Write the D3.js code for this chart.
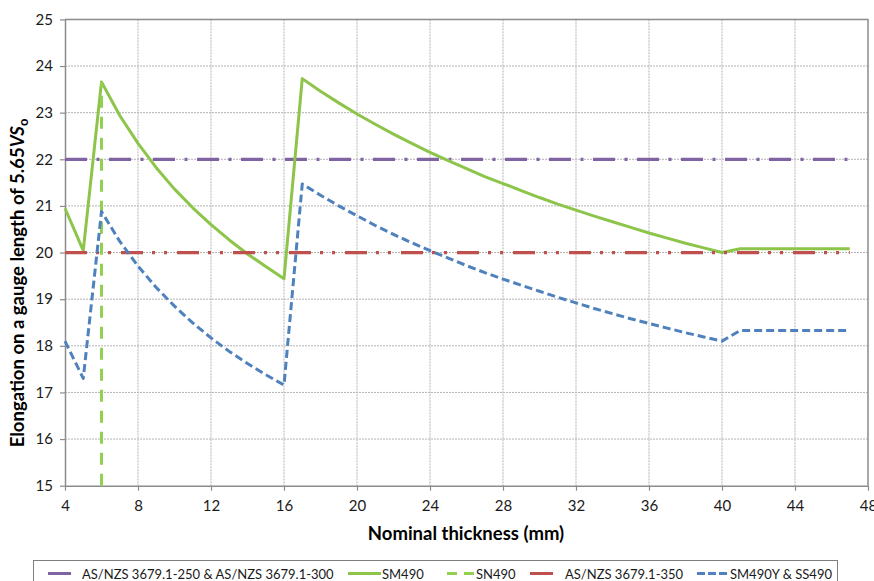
<!DOCTYPE html>
<html>
<head>
<meta charset="utf-8">
<script src="https://cdn.jsdelivr.net/npm/d3@7"></script>
<style>
  body { margin: 0; background: #fff; }
  svg { display: block; font-family: Lato, "Open Sans", sans-serif; }
</style>
</head>
<body>
<svg id="chart"></svg>
<script>
// data
const thickness = [4, 5, 6, 7, 8, 9, 10, 11, 12, 13, 14, 15, 16, 17, 18, 19, 20, 21, 22, 23, 24, 25,
    26, 27, 28, 29, 30, 31, 32, 33, 34, 35, 36, 37, 38, 39, 40, 41, 42, 43, 44, 45, 46, 47];

const sm490 = [20.95, 20.04,
    23.66, 22.94, 22.34, 21.82, 21.36, 20.96, 20.60, 20.27, 19.97, 19.70, 19.44,
    23.73, 23.46, 23.21, 22.97, 22.75, 22.54, 22.34, 22.15, 21.97, 21.80, 21.63, 21.48,
    21.33, 21.18, 21.04, 20.91, 20.78, 20.66, 20.54, 20.42, 20.31, 20.20, 20.10, 20.00,
    20.08, 20.08, 20.08, 20.08, 20.08, 20.08, 20.08];

const sm490y = [18.10, 17.30,
    20.88, 20.24, 19.71, 19.25, 18.85, 18.49, 18.17, 17.88, 17.62, 17.38, 17.16,
    21.47, 21.23, 21.00, 20.79, 20.58, 20.39, 20.21, 20.04, 19.88, 19.72, 19.57, 19.43,
    19.30, 19.17, 19.04, 18.92, 18.80, 18.69, 18.58, 18.48, 18.38, 18.28, 18.19, 18.10,
    18.33, 18.33, 18.33, 18.33, 18.33, 18.33, 18.33];

const as250Ends = [4, 47];
const as250 = [22, 22];
const as350Ends = [4, 47];
const as350 = [20, 20];
const sn490X = [6, 6];
const sn490 = [15, 23.66];

const xTicks = [4, 8, 12, 16, 20, 24, 28, 32, 36, 40, 44, 48];
const yTicks = [15, 16, 17, 18, 19, 20, 21, 22, 23, 24, 25];

// series (draw order = legend order)
const series = [
    { name: "AS/NZS 3679.1-250 & AS/NZS 3679.1-300", xs: as250Ends, ys: as250, color: "#8064A2", width: 3.2, dash: "22,9.5,3,9.5", legendW: 23, legendDash: null },
    { name: "SM490", xs: thickness, ys: sm490, color: "#8DC44A", width: 3, dash: null, legendW: 33, legendDash: null },
    { name: "SN490", xs: sn490X, ys: sn490, color: "#92D050", width: 3, dash: "12,9", legendW: 27, legendDash: "10,7" },
    { name: "AS/NZS 3679.1-350", xs: as350Ends, ys: as350, color: "#C0504D", width: 3.2, dash: "22,9,3,9,3,10", legendW: 23, legendDash: null },
    { name: "SM490Y & SS490", xs: thickness, ys: sm490y, color: "#4F81BD", width: 3, dash: "8,4", legendW: 31, legendDash: "8,3" }
];

// layout
const W = 874, H = 581;
const margin = { top: 19.4, left: 65, right: 6, bottom: 95 };
const width = W - margin.left - margin.right;
const height = 485.7 - margin.top;

const x = d3.scaleLinear().domain([4, 48]).range([0, width]);
const y = d3.scaleLinear().domain([15, 25]).range([height, 0]);

const svg = d3.select("#chart").attr("width", W).attr("height", H);
const g = svg.append("g").attr("transform", "translate(" + margin.left + "," + margin.top + ")");

// grid
g.append("g").selectAll("line").data(yTicks.slice(1))
    .enter().append("line")
    .attr("x1", 0).attr("x2", width)
    .attr("y1", function (d) { return y(d); }).attr("y2", function (d) { return y(d); })
    .attr("stroke", "#b3b3b3").attr("stroke-width", 1).attr("stroke-dasharray", "2,1");
g.append("g").selectAll("line").data(xTicks.slice(1, -1))
    .enter().append("line")
    .attr("y1", 0).attr("y2", height)
    .attr("x1", function (d) { return x(d); }).attr("x2", function (d) { return x(d); })
    .attr("stroke", "#b3b3b3").attr("stroke-width", 1).attr("stroke-dasharray", "2,1");

// plot border (top/right)
g.append("path")
    .attr("d", "M0,0H" + width + "V" + height)
    .attr("fill", "none").attr("stroke", "#8c8c8c").attr("stroke-width", 1.5);

// axes
const xAxis = g.append("g")
    .attr("transform", "translate(0," + height + ")")
    .call(d3.axisBottom(x).tickValues(xTicks).tickSize(5).tickSizeOuter(0).tickPadding(6));
const yAxis = g.append("g")
    .call(d3.axisLeft(y).tickValues(yTicks).tickSize(5).tickSizeOuter(0).tickPadding(7));
[xAxis, yAxis].forEach(function (a) {
    a.select(".domain").attr("stroke", "#8c8c8c").attr("stroke-width", 1.5);
    a.selectAll(".tick line").attr("stroke", "#8c8c8c").attr("stroke-width", 1.2);
    a.selectAll(".tick text").attr("fill", "#1a1a1a").style("font-size", "15px").style("font-family", "Lato, sans-serif");
});
xAxis.selectAll(".tick text").attr("dy", "0.95em");

// lines
const line = d3.line()
    .x(function (d) { return x(d[0]); })
    .y(function (d) { return y(d[1]); });

series.forEach(function (s) {
    const pts = s.xs.map(function (v, i) { return [v, s.ys[i]]; });
    g.append("path")
        .datum(pts)
        .attr("d", line)
        .attr("fill", "none")
        .attr("stroke", s.color)
        .attr("stroke-width", s.width)
        .attr("stroke-linejoin", "round")
        .attr("stroke-dasharray", s.dash);
});

// axis titles
svg.append("text")
    .attr("x", 466).attr("y", 540)
    .attr("text-anchor", "middle")
    .style("font-size", "18.5px").style("font-weight", "bold")
    .text("Nominal thickness (mm)");

const yt = svg.append("text")
    .attr("transform", "translate(24,283) rotate(-90)")
    .attr("text-anchor", "middle")
    .style("font-size", "18.5px").style("font-weight", "bold");
yt.append("tspan").text("Elongation on a gauge length of 5.65");
yt.append("tspan").style("font-style", "italic").text("VS");
yt.append("tspan").attr("dy", "4").style("font-size", "13px").text("o");

// legend
svg.append("rect")
    .attr("x", 33.5).attr("y", 560.5).attr("width", 804).attr("height", 30)
    .attr("fill", "#fff").attr("stroke", "#7f7f7f").attr("stroke-width", 1);

const legendX = [48, 348, 447, 530, 697];
const legendTextX = [82, 382, 476, 565, 730];
series.forEach(function (s, i) {
    svg.append("line")
        .attr("x1", legendX[i]).attr("x2", legendX[i] + s.legendW)
        .attr("y1", 573.5).attr("y2", 573.5)
        .attr("stroke", s.color).attr("stroke-width", 3)
        .attr("stroke-dasharray", s.legendDash);
    svg.append("text")
        .attr("x", legendTextX[i]).attr("y", 578.5)
        .style("font-size", "13px").attr("fill", "#1a1a1a")
        .text(s.name);
});
</script>
</body>
</html>
